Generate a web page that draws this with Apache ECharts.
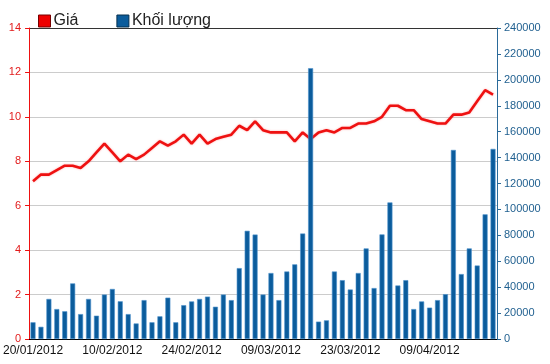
<!DOCTYPE html>
<html>
<head>
<meta charset="utf-8">
<script src="https://cdn.jsdelivr.net/npm/echarts@6/dist/echarts.min.js"></script>
<style>html,body{margin:0;padding:0;background:#fff}#c{width:550px;height:364px}</style>
</head>
<body>
<div id="c"></div>
<script>
const dates = ['20/01/2012','30/01/2012','31/01/2012','01/02/2012','02/02/2012','03/02/2012','06/02/2012','07/02/2012','08/02/2012','09/02/2012',
'10/02/2012','13/02/2012','14/02/2012','15/02/2012','16/02/2012','17/02/2012','20/02/2012','21/02/2012','22/02/2012','23/02/2012',
'24/02/2012','27/02/2012','28/02/2012','29/02/2012','01/03/2012','02/03/2012','05/03/2012','06/03/2012','07/03/2012','08/03/2012',
'09/03/2012','12/03/2012','13/03/2012','14/03/2012','15/03/2012','16/03/2012','19/03/2012','20/03/2012','21/03/2012','22/03/2012',
'23/03/2012','26/03/2012','27/03/2012','28/03/2012','29/03/2012','30/03/2012','03/04/2012','04/04/2012','05/04/2012','06/04/2012',
'09/04/2012','10/04/2012','11/04/2012','12/04/2012','13/04/2012','16/04/2012','17/04/2012','18/04/2012','19/04/2012'];
const price = [7.1,7.4,7.4,7.6,7.8,7.8,7.7,8.0,8.4,8.8,
8.4,8.0,8.3,8.1,8.3,8.6,8.9,8.7,8.9,9.2,
8.8,9.2,8.8,9.0,9.1,9.2,9.6,9.4,9.8,9.4,
9.3,9.3,9.3,8.9,9.3,9.0,9.3,9.4,9.3,9.5,
9.5,9.7,9.7,9.8,10.0,10.5,10.5,10.3,10.3,9.9,
9.8,9.7,9.7,10.1,10.1,10.2,10.7,11.2,11.0];
const volume = [12900,9400,30900,23100,21400,42900,19200,30900,18000,34300,
38600,29100,19200,12000,30000,12900,17500,31900,12900,26100,
29000,30900,32700,24900,34300,30000,54700,83500,80600,34300,
50900,30000,52100,57600,81400,209000,13400,14400,52100,45400,
38200,50900,69900,39300,80700,105400,41300,45400,23100,29000,
24200,30000,34600,145900,50100,69900,56700,96200,146700];
const leftTicks = {min:0, max:14, interval:2};
const rightTicks = {min:0, max:240000, interval:20000};

const font = 'Liberation Sans, Arial, sans-serif';
const chart = echarts.init(document.getElementById('c'), null, {renderer:'canvas'});
chart.setOption({
  animation:false,
  backgroundColor:'#fff',
  legend:{
    left:33, top:8, itemWidth:12, itemHeight:12, itemGap:38,
    textStyle:{fontFamily:font, fontSize:16, color:'#222', padding:[0,0,0,-2]},
    data:[
      {name:'Giá', icon:'rect', itemStyle:{color:'#ee0000', borderColor:'#700', borderWidth:1}},
      {name:'Khối lượng', icon:'rect', itemStyle:{color:'#0b5c9c', borderColor:'#06304f', borderWidth:1}}
    ]
  },
  grid:{left:28, right:53, top:28, bottom:25},
  xAxis:{
    type:'category', data:dates, boundaryGap:true,
    axisLine:{lineStyle:{color:'#000', width:1}},
    axisTick:{alignWithLabel:true, interval:9, length:5, lineStyle:{color:'#000'}},
    axisLabel:{interval:9, margin:6, fontFamily:font, fontSize:12, color:'#111'},
    splitLine:{show:false}
  },
  yAxis:[
    {type:'value', min:leftTicks.min, max:leftTicks.max, interval:leftTicks.interval, position:'left',
     axisLine:{show:true, lineStyle:{color:'#ee1111', width:1}},
     axisTick:{show:true, length:4, lineStyle:{color:'#ee1111'}},
     axisLabel:{margin:8, fontFamily:font, fontSize:11, color:'#e21b1b'},
     splitLine:{show:true, lineStyle:{color:['#cccccc','#cccccc','#cccccc','#cccccc','#cccccc','#cccccc','#cccccc','#333333'], width:1}}
    },
    {type:'value', min:rightTicks.min, max:rightTicks.max, interval:rightTicks.interval, position:'right',
     axisLine:{show:true, lineStyle:{color:'#2a6a9a', width:1}},
     axisTick:{show:true, length:4, lineStyle:{color:'#2a6a9a'}},
     axisLabel:{margin:7, fontFamily:font, fontSize:11, color:'#1f5f8f', formatter:function(v){return String(v);}},
     splitLine:{show:false}
    }
  ],
  series:[
    {name:'Giá', type:'line', yAxisIndex:0, data:price, z:1, showSymbol:false, symbol:'none',
     itemStyle:{color:'#ee0000'},
     lineStyle:{color:'#ee1111', width:2.6, shadowColor:'rgba(255,80,80,0.5)', shadowBlur:2}},
    {name:'Khối lượng', type:'bar', yAxisIndex:1, data:volume, z:3, barWidth:5,
     itemStyle:{color:'#0b5c9c', borderColor:'#4d92cc', borderWidth:0.6}}
  ]
});
</script>
</body>
</html>
